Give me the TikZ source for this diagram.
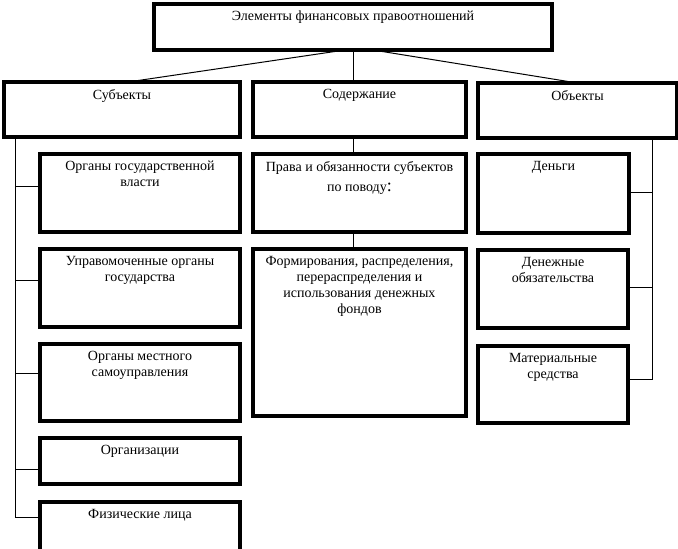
\documentclass[tikz,border=0pt]{standalone}
\usepackage{fontspec}
\setmainfont{Liberation Serif}
\usetikzlibrary{calc}
\newcommand\mkbox[6]{%
  \node[box, minimum width={(#4-#2)*1pt}, minimum height={(#5-#3)*1pt}] (#1) at ({(#2+#4)/2},{(#3+#5)/2}) {};
  \node[txt] (#1t) at ($(#1.north)+(0,7)$) {#6};}
\begin{document}
\begin{tikzpicture}[x=1pt,y=-1pt,
  box/.style={draw, line width=3.2pt, inner sep=0pt, outer sep=0pt},
  txt/.style={anchor=north, align=center, inner sep=0pt, font=\fontsize{14}{16}\selectfont},
  conn/.style={line width=1pt}]
\useasboundingbox (0,0) rectangle (678,549);
\fill[white] (0,0) rectangle (678,549);
% level 0
\mkbox{top}{154}{4}{552}{50}{Элементы финансовых правоотношений}
% level 1
\mkbox{subj}{4}{82}{240}{137}{Субъекты}
\mkbox{cont}{253}{82}{466}{137}{Содержание}
\mkbox{obj}{478}{83}{677}{138}{Объекты}
% left column
\mkbox{og}{40}{154}{240}{232}{Органы государственной\\власти}
\mkbox{upr}{40}{249}{240}{327}{Управомоченные органы\\государства}
\mkbox{loc}{40}{344}{240}{421}{Органы местного\\самоуправления}
\mkbox{org}{40}{438}{240}{484}{Организации}
\mkbox{phys}{40}{502}{240}{552}{Физические лица}
% middle column
\mkbox{rights}{253}{154}{466}{232}{Права и обязанности субъектов\\[4pt]по поводу{\fontsize{18}{18}\selectfont:}}
\mkbox{form}{253}{249}{466}{416}{Формирования, распределения,\\перераспределения и\\использования денежных\\фондов}
% right column
\mkbox{money}{478}{154}{629}{233}{Деньги}
\mkbox{obl}{478}{250}{628}{328}{Денежные\\обязательства}
\mkbox{mat}{478}{346}{628}{423}{Материальные\\средства}
% connectors from the title
\draw[conn] ($(top.south)+(-8,0)$) -- ($(subj.north)+(6,0)$);
\draw[conn] (top.south) -- (top.south |- cont.north);
\draw[conn] ($(top.south)+(20,0)$) -- (obj.north);
% middle chain
\draw[conn] (top.south |- cont.south) -- (top.south |- rights.north);
\draw[conn] (top.south |- rights.south) -- (top.south |- form.north);
% left trunk
\coordinate (lt) at ($(subj.south west)+(11,0)$);
\coordinate (b1) at ($(og.north west)+(0,32)$);
\coordinate (b2) at ($(upr.north west)+(0,31)$);
\coordinate (b3) at ($(loc.north west)+(0,29)$);
\coordinate (b4) at ($(org.north west)+(0,31)$);
\coordinate (b5) at ($(phys.north west)+(0,15)$);
\draw[conn] (lt) -- (lt |- b5) -- (b5);
\draw[conn] (lt |- b1) -- (b1);
\draw[conn] (lt |- b2) -- (b2);
\draw[conn] (lt |- b3) -- (b3);
\draw[conn] (lt |- b4) -- (b4);
% right trunk
\coordinate (rt) at ($(obj.south west)+(174,0)$);
\coordinate (r1) at ($(money.north east)+(0,38)$);
\coordinate (r2) at ($(obl.north east)+(0,37)$);
\coordinate (r3) at ($(mat.north east)+(0,33)$);
\draw[conn] (rt) -- (rt |- r3) -- (r3);
\draw[conn] (rt |- r1) -- (r1);
\draw[conn] (rt |- r2) -- (r2);
\end{tikzpicture}
\end{document}
